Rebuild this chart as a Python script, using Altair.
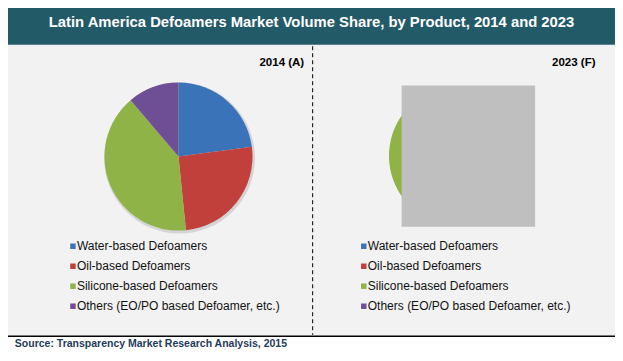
import altair as alt
import pandas as pd

# ---------------- data ----------------
categories = [
    "Water-based Defoamers",
    "Oil-based Defoamers",
    "Silicone-based Defoamers",
    "Others (EO/PO based Defoamer, etc.)",
]
share_2014 = [22.9, 25.5, 40.4, 11.2]
share_2023 = [22.0, 25.0, 42.0, 11.0]   # hidden behind the grey box in the original
colors = ["#3B73B9", "#C2403C", "#8FB347", "#6E4E94"]

title_text = "Latin America Defoamers Market Volume Share, by Product, 2014 and 2023"
panel_labels = ["2014 (A)", "2023 (F)"]
source_text = "Source: Transparency Market Research Analysis, 2015"

# ---------------- layout ----------------
W, H = 607, 345
SX, SY = W / 623, H / 361


def px(x):
    return x * SX


def py(y):
    return y * SY


R = 74
R2 = 70
FONT = "Liberation Sans"

one = pd.DataFrame({"a": [0]})

df14 = pd.DataFrame({"product": categories, "share": share_2014, "ord": list(range(4))})
df23 = pd.DataFrame({"product": categories, "share": share_2023, "ord": list(range(4))})

color_scale = alt.Scale(domain=categories, range=colors)


def legend(x, y):
    return alt.Legend(
        title=None, orient="none", legendX=px(x), legendY=py(y),
        symbolType="square", symbolSize=30, symbolStrokeWidth=0,
        labelFontSize=12, labelFont=FONT, labelColor="#111111",
        rowPadding=8, labelOffset=alt.ExprRef(expr="-2"), labelLimit=400, padding=0,
    )


bg = alt.Chart(one).mark_rect(color="#F2F2F2").encode(
    x=alt.value(0), x2=alt.value(W), y=alt.value(py(38.5)), y2=alt.value(py(343)))
bar = alt.Chart(one).mark_rect(color="#235A68").encode(
    x=alt.value(0), x2=alt.value(W), y=alt.value(0), y2=alt.value(py(38.5)))
baseline = alt.Chart(one).mark_rule(color="#000000", strokeWidth=1.5).encode(
    x=alt.value(0), x2=alt.value(W), y=alt.value(py(343.5)))
divider = alt.Chart(one).mark_rule(color="#000000", strokeWidth=1, strokeDash=[4, 3]).encode(
    x=alt.value(px(312.7)), y=alt.value(py(40)), y2=alt.value(py(342)))

title = alt.Chart(one).mark_text(
    text=title_text, font=FONT, fontSize=14.8, fontWeight="bold", color="#FFFFFF",
    align="center", baseline="middle").encode(x=alt.value(px(311.5)), y=alt.value(py(15.5)))

lab1 = alt.Chart(one).mark_text(
    text=panel_labels[0], font=FONT, fontSize=11.5, fontWeight="bold", color="#000000",
    align="right", baseline="middle").encode(x=alt.value(px(304)), y=alt.value(py(57.5)))
lab2 = alt.Chart(one).mark_text(
    text=panel_labels[1], font=FONT, fontSize=11.5, fontWeight="bold", color="#000000",
    align="right", baseline="middle").encode(x=alt.value(px(603)), y=alt.value(py(57.5)))

source = alt.Chart(one).mark_text(
    text=source_text, font=FONT, fontSize=10.5, fontWeight="bold", color="#1F3B5B",
    align="left", baseline="middle").encode(x=alt.value(px(7)), y=alt.value(py(352)))


def shadow(cx, cy, r):
    return alt.Chart(one).mark_arc(radius=r + 1.5, theta=0, theta2=6.2832,
                                   color="#000000", opacity=0.12).encode(
        x=alt.value(cx + 1), y=alt.value(cy + 1.5))


def pie(df, cx, cy, r, lx, ly):
    return alt.Chart(df).mark_arc(radius=r, strokeWidth=0).encode(
        theta=alt.Theta("share:Q", stack=True),
        color=alt.Color("product:N", scale=color_scale, sort=categories, legend=legend(lx, ly)),
        order=alt.Order("ord:Q"),
        x=alt.value(cx), y=alt.value(cy),
    )


c1x, c1y = px(175), py(155.5)
c2x, c2y = px(391) + R2, py(81) + R2 + 0.5

pie14 = pie(df14, c1x, c1y, R, 60.5, 243)
pie23 = pie(df23, c2x, c2y, R2, 359, 243)

grey = alt.Chart(one).mark_rect(color="#BFBFBF").encode(
    x=alt.value(px(404)), x2=alt.value(px(541)), y=alt.value(py(81)), y2=alt.value(py(229)))

chart = alt.layer(
    bg, bar, baseline, divider, title, lab1, lab2, source,
    shadow(c1x, c1y, R), pie14, pie23, grey,
).resolve_scale(color="independent", theta="independent").properties(
    width=W, height=H, padding=0, autosize="none", background="#FFFFFF"
).configure_view(stroke=None)

chart.save("out.html", embed_options={"renderer": "svg", "actions": False})
